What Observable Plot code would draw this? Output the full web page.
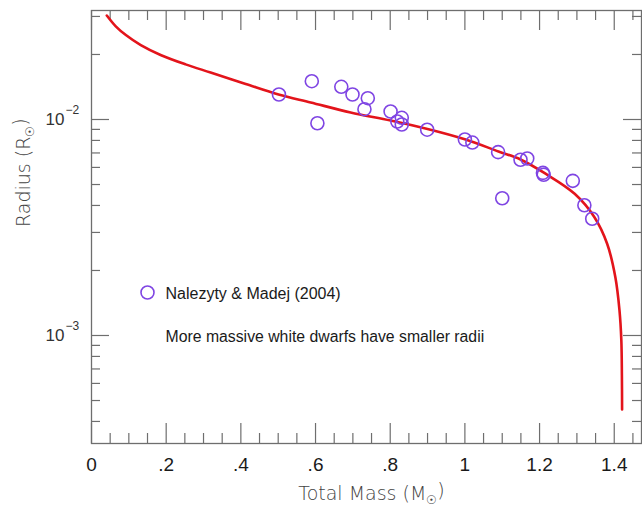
<!DOCTYPE html>
<html><head><meta charset="utf-8">
<script src="https://cdn.jsdelivr.net/npm/d3@7"></script>
<script src="https://cdn.jsdelivr.net/npm/@observablehq/plot@0.6"></script>
<style>body{margin:0;background:#fff} svg{display:block}</style>
</head><body><div id="chart"></div>
<script>
// Observations: Nalezyty & Madej (2004)
const obsMass = [0.502, 0.590, 0.605, 0.669, 0.699, 0.740, 0.731, 0.801, 0.831, 0.819, 0.831, 0.899, 1.000, 1.020, 1.089, 1.149, 1.167, 1.209, 1.211, 1.289, 1.100, 1.320, 1.341];
const obsRadius = [0.01305, 0.01504, 0.00961, 0.01417, 0.01305, 0.01255, 0.01116, 0.01089, 0.01018, 0.00979, 0.00948, 0.00897, 0.00808, 0.00782, 0.00706, 0.00651, 0.00660, 0.00566, 0.00555, 0.00520, 0.00432, 0.00401, 0.00347];
// Theoretical mass-radius relation
const curveMass = [0.041, 0.065, 0.092, 0.132, 0.185, 0.252, 0.319, 0.413, 0.501, 0.587, 0.694, 0.801, 0.900, 1.002, 1.090, 1.149, 1.216, 1.294, 1.347, 1.381, 1.403, 1.414, 1.419, 1.4205, 1.421];
const curveRadius = [0.0303, 0.0270, 0.0246, 0.0221, 0.0199, 0.0180, 0.0165, 0.0146, 0.01305, 0.01199, 0.01078, 0.00989, 0.00904, 0.00808, 0.00711, 0.00653, 0.00561, 0.00453, 0.00353, 0.00266, 0.00186, 0.00131, 0.000948, 0.000653, 0.000454];
// Axes
const xMajorTicks = [0, 0.2, 0.4, 0.6, 0.8, 1.0, 1.2, 1.4];
const xTickLabels = ["0", ".2", ".4", ".6", ".8", "1", "1.2", "1.4"];
const xMinorTicks = [0.05, 0.1, 0.15, 0.25, 0.3, 0.35, 0.45, 0.5, 0.55, 0.65, 0.7, 0.75, 0.85, 0.9, 0.95, 1.05, 1.1, 1.15, 1.25, 1.3, 1.35, 1.45];
const yMajorTicks = [1e-3, 1e-2];
const yTickBase = ["10", "10"];
const yTickExponents = ["\u22123", "\u22122"];
const yMinorTicks = [4e-4, 5e-4, 6e-4, 7e-4, 8e-4, 9e-4, 2e-3, 3e-3, 4e-3, 5e-3, 6e-3, 7e-3, 8e-3, 9e-3, 2e-2, 3e-2];
const legendLabel = "Nalezyty & Madej (2004)";
const noteText = "More massive white dwarfs have smaller radii";
const xTitle = "Total Mass (M\u2609)";
const yTitle = "Radius (R\u2609)";

const obs = obsMass.map((m, i) => ({m, r: obsRadius[i]}));
const curve = curveMass.map((m, i) => ({m, r: curveRadius[i]}));

const W = 642, H = 506, ML = 91, MR = 1, MT = 10, MB = 63;
const PW = W - ML - MR, PH = H - MT - MB;
const tickColor = "#6e6e6e";
const purple = "#7f45e3";
const red = "#e3141b";

const svg = Plot.plot({
  width: W, height: H,
  marginLeft: ML, marginRight: MR, marginTop: MT, marginBottom: MB,
  style: {fontFamily: "'Liberation Sans', Arial, sans-serif", background: "#fff"},
  x: {domain: [0, 1.473], axis: null},
  y: {type: "log", domain: [3.162e-4, 0.03196], axis: null},
  marks: [
    // ticks (inward)
    Plot.ruleX(xMajorTicks, {x: d => d, stroke: tickColor, strokeWidth: 1.2, insetTop: PH - 20}),
    Plot.ruleX(xMinorTicks, {x: d => d, stroke: tickColor, strokeWidth: 1.2, insetTop: PH - 10}),
    Plot.ruleX(xMajorTicks, {x: d => d, stroke: tickColor, strokeWidth: 1.2, insetBottom: PH - 20}),
    Plot.ruleX(xMinorTicks, {x: d => d, stroke: tickColor, strokeWidth: 1.2, insetBottom: PH - 10}),
    Plot.ruleY(yMajorTicks, {y: d => d, stroke: tickColor, strokeWidth: 1.2, insetRight: PW - 18}),
    Plot.ruleY(yMinorTicks, {y: d => d, stroke: tickColor, strokeWidth: 1.2, insetRight: PW - 9}),
    Plot.ruleY(yMajorTicks, {y: d => d, stroke: tickColor, strokeWidth: 1.2, insetLeft: PW - 18}),
    Plot.ruleY(yMinorTicks, {y: d => d, stroke: tickColor, strokeWidth: 1.2, insetLeft: PW - 9}),
    Plot.frame({stroke: tickColor, strokeWidth: 1.3}),
    // tick labels
    Plot.text(xMajorTicks, {x: d => d, frameAnchor: "bottom", lineAnchor: "middle", dy: 21, text: (d, i) => xTickLabels[i], fontSize: 19, fill: "#1a1a1a"}),
    Plot.text(yMajorTicks, {y: d => d, frameAnchor: "left", lineAnchor: "middle", dx: -27, textAnchor: "end", text: (d, i) => yTickBase[i], fontSize: 17, fill: "#333"}),
    Plot.text(yMajorTicks, {y: d => d, frameAnchor: "left", lineAnchor: "middle", dx: -26, dy: -9, textAnchor: "start", text: (d, i) => yTickExponents[i], fontSize: 12, fill: "#333"}),
    // axis titles
    Plot.text([xTitle], {frameAnchor: "bottom", lineAnchor: "middle", dx: 5, dy: 50, text: d => d, fontSize: 19, fill: "#444", fontFamily: "'DejaVu Sans', sans-serif", fontWeight: 300}),
    Plot.text([yTitle], {frameAnchor: "left", lineAnchor: "middle", dx: -68, rotate: -90, text: d => d, fontSize: 19, fill: "#444", fontFamily: "'DejaVu Sans', sans-serif", fontWeight: 300}),
    // data
    Plot.line(curve, {x: "m", y: "r", stroke: red, strokeWidth: 2.6, curve: "catmull-rom"}),
    Plot.dot(obs, {x: "m", y: "r", r: 6.5, stroke: purple, strokeWidth: 1.6, fill: "none"}),
    // legend + note
    Plot.dot([legendLabel], {frameAnchor: "top-left", dx: 56, dy: 282, r: 6.5, stroke: purple, strokeWidth: 1.6, fill: "none"}),
    Plot.text([legendLabel], {frameAnchor: "top-left", lineAnchor: "middle", dx: 74, dy: 283, textAnchor: "start", text: d => d, fontSize: 16, fill: "#1a1a1a"}),
    Plot.text([noteText], {frameAnchor: "top-left", lineAnchor: "middle", dx: 74, dy: 326, textAnchor: "start", text: d => d, fontSize: 15.8, fill: "#1a1a1a"})
  ]
});

// subscript the solar symbol in axis titles
d3.select(svg).selectAll("text").each(function() {
  const t = this.textContent;
  const k = t.indexOf("\u2609");
  if (k < 0) return;
  const el = d3.select(this);
  el.text(null);
  el.append("tspan").text(t.slice(0, k));
  el.append("tspan").attr("font-size", "0.62em").attr("dy", "0.35em").text("\u2609");
  el.append("tspan").attr("dy", "-0.35em").text(t.slice(k + 1));
});

document.getElementById("chart").appendChild(svg);
</script>
</body></html>
